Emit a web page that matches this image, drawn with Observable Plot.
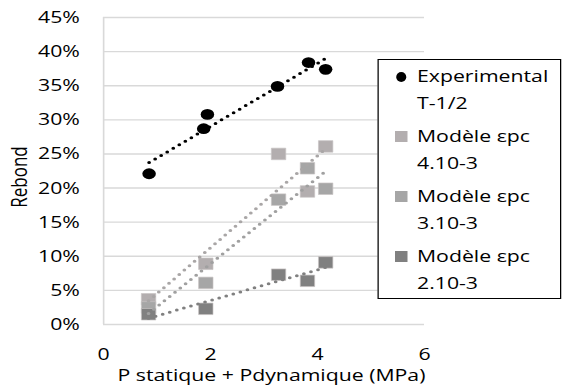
<!DOCTYPE html>
<html><head><meta charset="utf-8">
<script src="https://cdn.jsdelivr.net/npm/d3@7"></script>
<script src="https://cdn.jsdelivr.net/npm/@observablehq/plot@0.6"></script>
<style>
html,body{margin:0;padding:0;background:#fff;}
#wrap{position:relative;width:450px;height:386px;transform:scale(1.25,1);transform-origin:0 0;font-family:"Open Sans",sans-serif;font-size:17px;color:#000;overflow:visible;}
#wrap svg{position:absolute;left:0;top:0;}
#wrap svg text{font-family:"Open Sans",sans-serif;font-size:17px;fill:#000;}
.abs{position:absolute;white-space:nowrap;font-size:17px;}
#legend{position:absolute;left:301.6px;top:59px;width:145px;height:238px;border:1.4px solid #000;background:#fff;}
.item{position:absolute;left:31px;line-height:26.5px;font-size:17px;}
.mk{position:absolute;}
</style></head><body><div id="wrap"></div>
<script>
// Data
const xExp = [0.85, 1.94, 1.87, 3.25, 3.83, 4.15];
const yExp = [0.221, 0.308, 0.287, 0.349, 0.384, 0.374];
const xModel = [0.84, 1.91, 3.27, 3.81, 4.15];
const yModel4 = [0.037, 0.089, 0.250, 0.195, 0.261];
const yModel3 = [0.025, 0.061, 0.183, 0.229, 0.199];
const yModel2 = [0.015, 0.023, 0.073, 0.064, 0.091];
const seriesLine1 = ["Experimental", "Modèle εpc", "Modèle εpc", "Modèle εpc"];
const seriesLine2 = ["T-1/2", "4.10-3", "3.10-3", "2.10-3"];
const seriesColors = ["#000000", "#b3aeaf", "#a6a6a6", "#808080"];
const seriesSymbols = ["circle", "square", "square", "square"];
const yTicks = [0, 0.05, 0.10, 0.15, 0.20, 0.25, 0.30, 0.35, 0.40, 0.45];
const xTicks = [0, 2, 4, 6];
const xLabel = "P statique + Pdynamique (MPa)";
const yLabel = "Rebond";

const rows = (xs, ys) => xs.map((x, i) => ({x, y: ys[i]}));
const exp = rows(xExp, yExp);
const m4 = rows(xModel, yModel4);
const m3 = rows(xModel, yModel3);
const m2 = rows(xModel, yModel2);
const modelSets = [m4, m3, m2];

const trend = (data, color) => Plot.linearRegressionY(data, {
  x: "x", y: "y", stroke: color, strokeWidth: 3, strokeOpacity: 1,
  strokeDasharray: "0 6", strokeLinecap: "round", ci: 0
});

const chart = Plot.plot({
  width: 450, height: 386,
  marginLeft: 82.4, marginRight: 110.8, marginTop: 17, marginBottom: 62,
  style: {fontFamily: "Open Sans", fontSize: "17px", color: "#000", background: "transparent", overflow: "visible"},
  x: {domain: [0, 6]},
  y: {domain: [0, 0.45]},
  marks: [
    Plot.ruleY(yTicks, {stroke: "#d9d9d9", strokeWidth: 1.4}),
    Plot.ruleX([0], {stroke: "#d9d9d9", strokeWidth: 1.3}),
    Plot.axisY({ticks: yTicks, tickSize: 0, tickPadding: 19, fontSize: 17, label: null,
      tickFormat: d => Math.round(d * 100) + "%"}),
    Plot.axisX({ticks: xTicks, tickSize: 0, tickPadding: 23, fontSize: 17, label: null,
      tickFormat: d => String(d)}),
    ...modelSets.map((d, i) => Plot.dot(d, {x: "x", y: "y", symbol: seriesSymbols[i + 1], r: 6.5,
      fill: seriesColors[i + 1], stroke: "#c8c4c4", strokeWidth: 0.6})),
    Plot.dot(exp, {x: "x", y: "y", symbol: "circle", r: 5.4, fill: seriesColors[0]}),
    trend(exp, seriesColors[0]),
    trend(m4, "#a9a6a6"),
    trend(m3, "#a0a0a0"),
    trend(m2, "#808080")
  ]
});

const wrap = document.getElementById("wrap");
wrap.appendChild(chart);

// Axis titles
const yl = document.createElement("div");
yl.className = "abs";
yl.textContent = yLabel;
yl.style.cssText = "left:15.2px;top:176.5px;transform:translate(-50%,-50%) rotate(-90deg);line-height:17px;";
wrap.appendChild(yl);

const xl = document.createElement("div");
xl.className = "abs";
xl.textContent = xLabel;
xl.style.cssText = "left:217.2px;top:367px;transform:translateX(-50%);line-height:15px;";
wrap.appendChild(xl);

// Legend
const lg = document.createElement("div");
lg.id = "legend";
const centers = [77, 137, 197, 257];
seriesLine1.forEach((t, i) => {
  const top = centers[i] - 59 - 1.4;
  const it = document.createElement("div");
  it.className = "item";
  it.style.top = (top - 13.25) + "px";
  it.innerHTML = t + "<br>" + seriesLine2[i];
  lg.appendChild(it);
  const mk = document.createElement("div");
  mk.className = "mk";
  if (seriesSymbols[i] === "circle") {
    mk.style.cssText = `left:${18.4 - 4.2}px;top:${top - 5}px;width:8.4px;height:10px;border-radius:50%;background:${seriesColors[i]};`;
  } else {
    mk.style.cssText = `left:${18.4 - 5}px;top:${top - 5.5}px;width:10px;height:11px;background:${seriesColors[i]};`;
  }
  lg.appendChild(mk);
});
wrap.appendChild(lg);
</script>
</body></html>
